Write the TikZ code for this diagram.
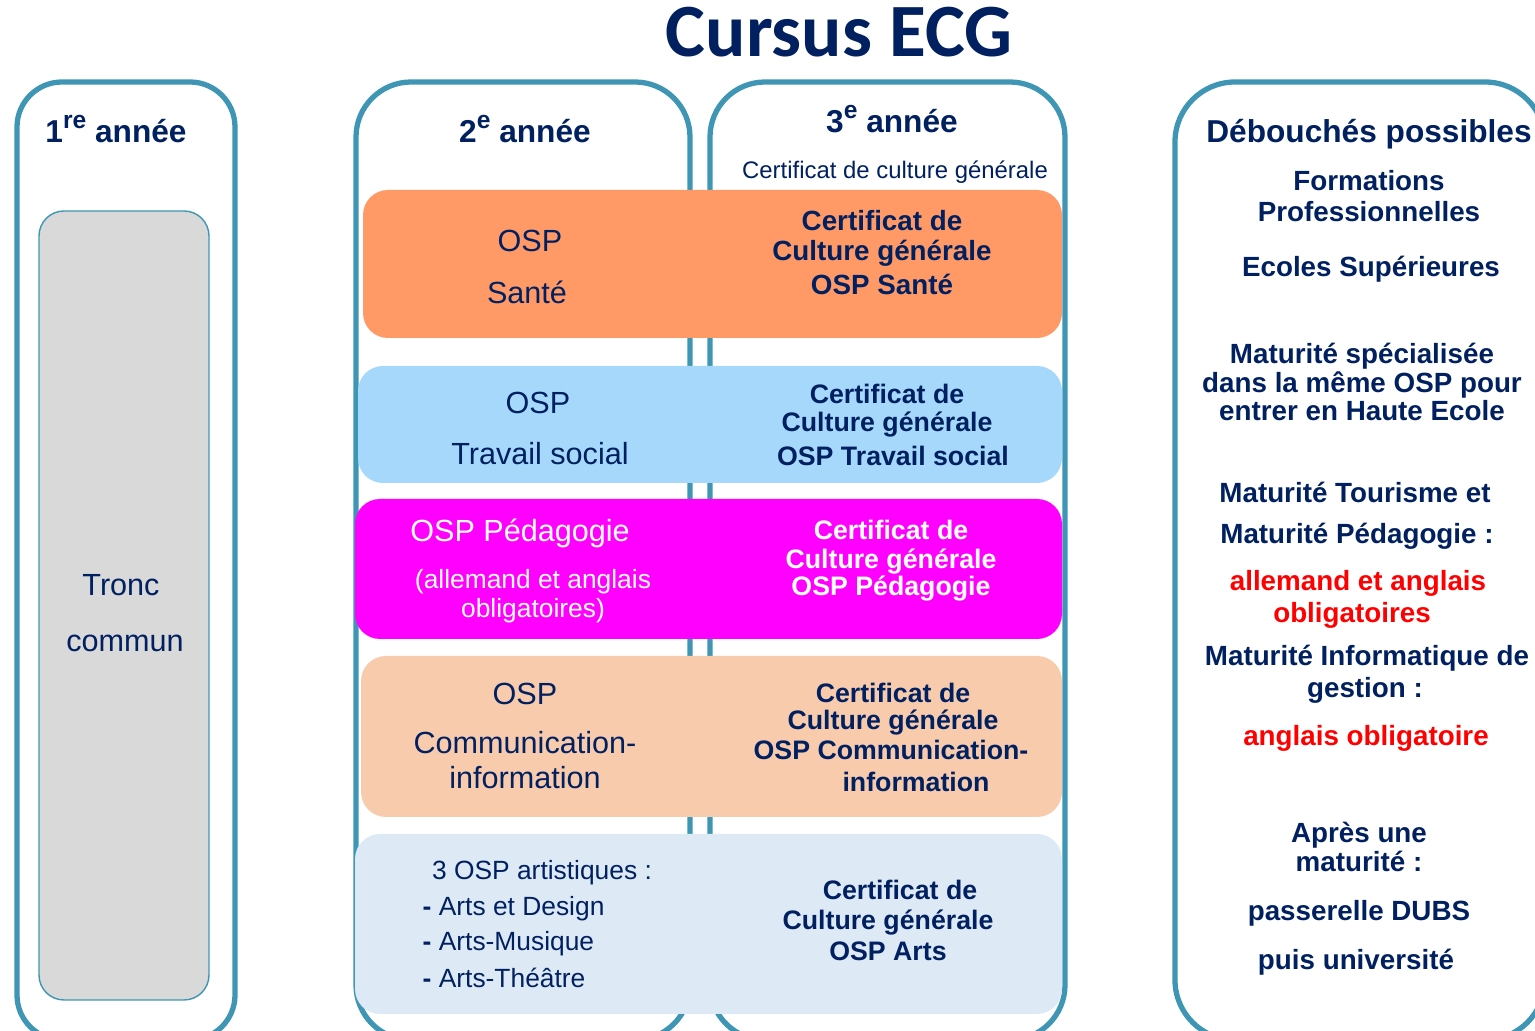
\documentclass[tikz,border=0pt]{standalone}
\usepackage{fontspec}
\setmainfont{Liberation Sans}
\newfontfamily\titlefont{Carlito}
\definecolor{navy}{RGB}{0,32,96}
\definecolor{framec}{RGB}{62,150,180}
\definecolor{bandor}{RGB}{255,153,102}
\definecolor{bandbl}{RGB}{166,216,252}
\definecolor{bandmg}{RGB}{255,0,255}
\definecolor{bandpe}{RGB}{248,203,173}
\definecolor{bandpa}{RGB}{221,234,246}
\definecolor{grayb}{RGB}{217,217,217}
\definecolor{redt}{RGB}{255,0,0}
\newcommand{\supx}[1]{\raisebox{0.45em}{\fontsize{7}{8}\selectfont #1}}
\begin{document}
\begin{tikzpicture}[x=0.01cm,y=-0.01cm,
  frame/.style={draw=framec, line width=1.5pt, rounded corners=5.5mm},
  band/.style={rounded corners=2.5mm},
  t/.style={text=navy, inner sep=0pt, anchor=base},
  tw/.style={t, text=white},
  tr/.style={t, text=redt},
  hb/.style={font=\fontsize{9}{11}\selectfont\bfseries},
  rg/.style={font=\fontsize{8.7}{10}\selectfont},
  bb/.style={font=\fontsize{7.9}{9}\selectfont\bfseries},
  bs/.style={font=\fontsize{7.6}{9}\selectfont\bfseries},
  sm/.style={font=\fontsize{7.5}{9}\selectfont},
  xs/.style={font=\fontsize{6.8}{8}\selectfont}]
\useasboundingbox (0,0) rectangle (1535,1031);
\clip (0,0) rectangle (1535,1031);

% title
\node[t, font=\titlefont\bfseries\fontsize{21.4}{24}\selectfont] (title) at (839,57) {Cursus ECG};

% frames
\draw[frame, rounded corners=4.5mm] (17,82) rectangle (235,1040);
\draw[frame] (356,82) rectangle (690,1040);
\draw[frame] (710,82) rectangle (1065,1040);
\draw[frame, rounded corners=6mm] (1175,82) rectangle (1545,1040);

% tronc commun box
\filldraw[fill=grayb, draw=framec, line width=0.4pt, rounded corners=2.5mm] (39,211) rectangle (209,1000);
\node[t,rg] (tr1) at (121,596) {Tronc};
\node[t,rg] (tr2) at (125,652) {commun};

% headers
\node[t,hb] (an1) at (116,143) {1\supx{re} année};
\node[t,hb] (an2) at (525,143) {2\supx{e} année};
\node[t,hb] (an3) at (892,133) {3\supx{e} année};
\node[t,xs] (ccg) at (895,179) {Certificat de culture générale};
\node[t,hb] (deb) at (1369,143) {Débouchés possibles};

% bands
\fill[bandor, band] (363,190) rectangle (1062,338);
\fill[bandbl, band] (358,366) rectangle (1062,483);
\fill[bandmg, band] (355,499) rectangle (1062,639);
\fill[bandpe, band] (361,656) rectangle (1062,817);
\fill[bandpa, band] (355,834) rectangle (1062,1014);

% Santé
\node[t,rg] (s1) at (530,252) {OSP};
\node[t,rg] (s2) at (527,304) {Santé};
\node[t,bb] (sc1) at (882,231) {Certificat de};
\node[t,bb] (sc2) at (882,261) {Culture générale};
\node[t,bb] (sc3) at (882,295) {OSP Santé};

% Travail social
\node[t,rg] (ts1) at (538,414) {OSP};
\node[t,rg] (ts2) at (540,465) {Travail social};
\node[t,bs] (tc1) at (887,404) {Certificat de};
\node[t,bs] (tc2) at (887,432) {Culture générale};
\node[t,bs] (tc3) at (893,466) {OSP Travail social};

% Pedagogie
\node[tw,rg] (p1) at (520,542) {OSP Pédagogie};
\node[tw,sm] (p2) at (533,589) {(allemand et anglais};
\node[tw,sm] (p3) at (533,618) {obligatoires)};
\node[tw,bs] (pc1) at (891,540) {Certificat de};
\node[tw,bs] (pc2) at (891,569) {Culture générale};
\node[tw,bs] (pc3) at (891,596) {OSP Pédagogie};

% Communication
\node[t,rg] (c1) at (525,705) {OSP};
\node[t,rg] (c2) at (525,754) {Communication-};
\node[t,rg] (c3) at (525,789) {information};
\node[t,bs] (cc1) at (893,703) {Certificat de};
\node[t,bs] (cc2) at (893,730) {Culture générale};
\node[t,bs] (cc3) at (891,760) {OSP Communication-};
\node[t,bs] (cc4) at (916,792) {information};

% Arts
\node[t,sm] (a1) at (542,880) {3 OSP artistiques :};
\node[t,sm,anchor=base west] (a2) at (422,916) {\textbf{-} Arts et Design};
\node[t,sm,anchor=base west] (a3) at (422,951) {\textbf{-} Arts-Musique};
\node[t,sm,anchor=base west] (a4) at (422,988) {\textbf{-} Arts-Théâtre};
\node[t,bs] (ac1) at (900,900) {Certificat de};
\node[t,bs] (ac2) at (888,930) {Culture générale};
\node[t,bs] (ac3) at (888,961) {OSP Arts};

% Débouchés
\node[t,bb] (d1) at (1369,191) {Formations};
\node[t,bb] (d2) at (1369,222) {Professionnelles};
\node[t,bb] (d3) at (1371,277) {Ecoles Supérieures};
\node[t,bb] (d4) at (1362,364) {Maturité spécialisée};
\node[t,bb] (d5) at (1362,393) {dans la même OSP pour};
\node[t,bb] (d6) at (1362,421) {entrer en Haute Ecole};
\node[t,bb] (d7) at (1355,503) {Maturité Tourisme et};
\node[t,bb] (d8) at (1357,544) {Maturité Pédagogie :};
\node[tr,bb] (d9) at (1358,591) {allemand et anglais};
\node[tr,bb] (d10) at (1352,623) {obligatoires};
\node[t,bb] (d11) at (1367,666) {Maturité Informatique de};
\node[t,bb] (d12) at (1365,698) {gestion :};
\node[tr,bb] (d13) at (1366,746) {anglais obligatoire};
\node[t,bb] (d14) at (1359,843) {Après une};
\node[t,bb] (d15) at (1359,872) {maturité :};
\node[t,bb] (d16) at (1359,921) {passerelle DUBS};
\node[t,bb] (d17) at (1356,970) {puis université};
\end{tikzpicture}
\end{document}
